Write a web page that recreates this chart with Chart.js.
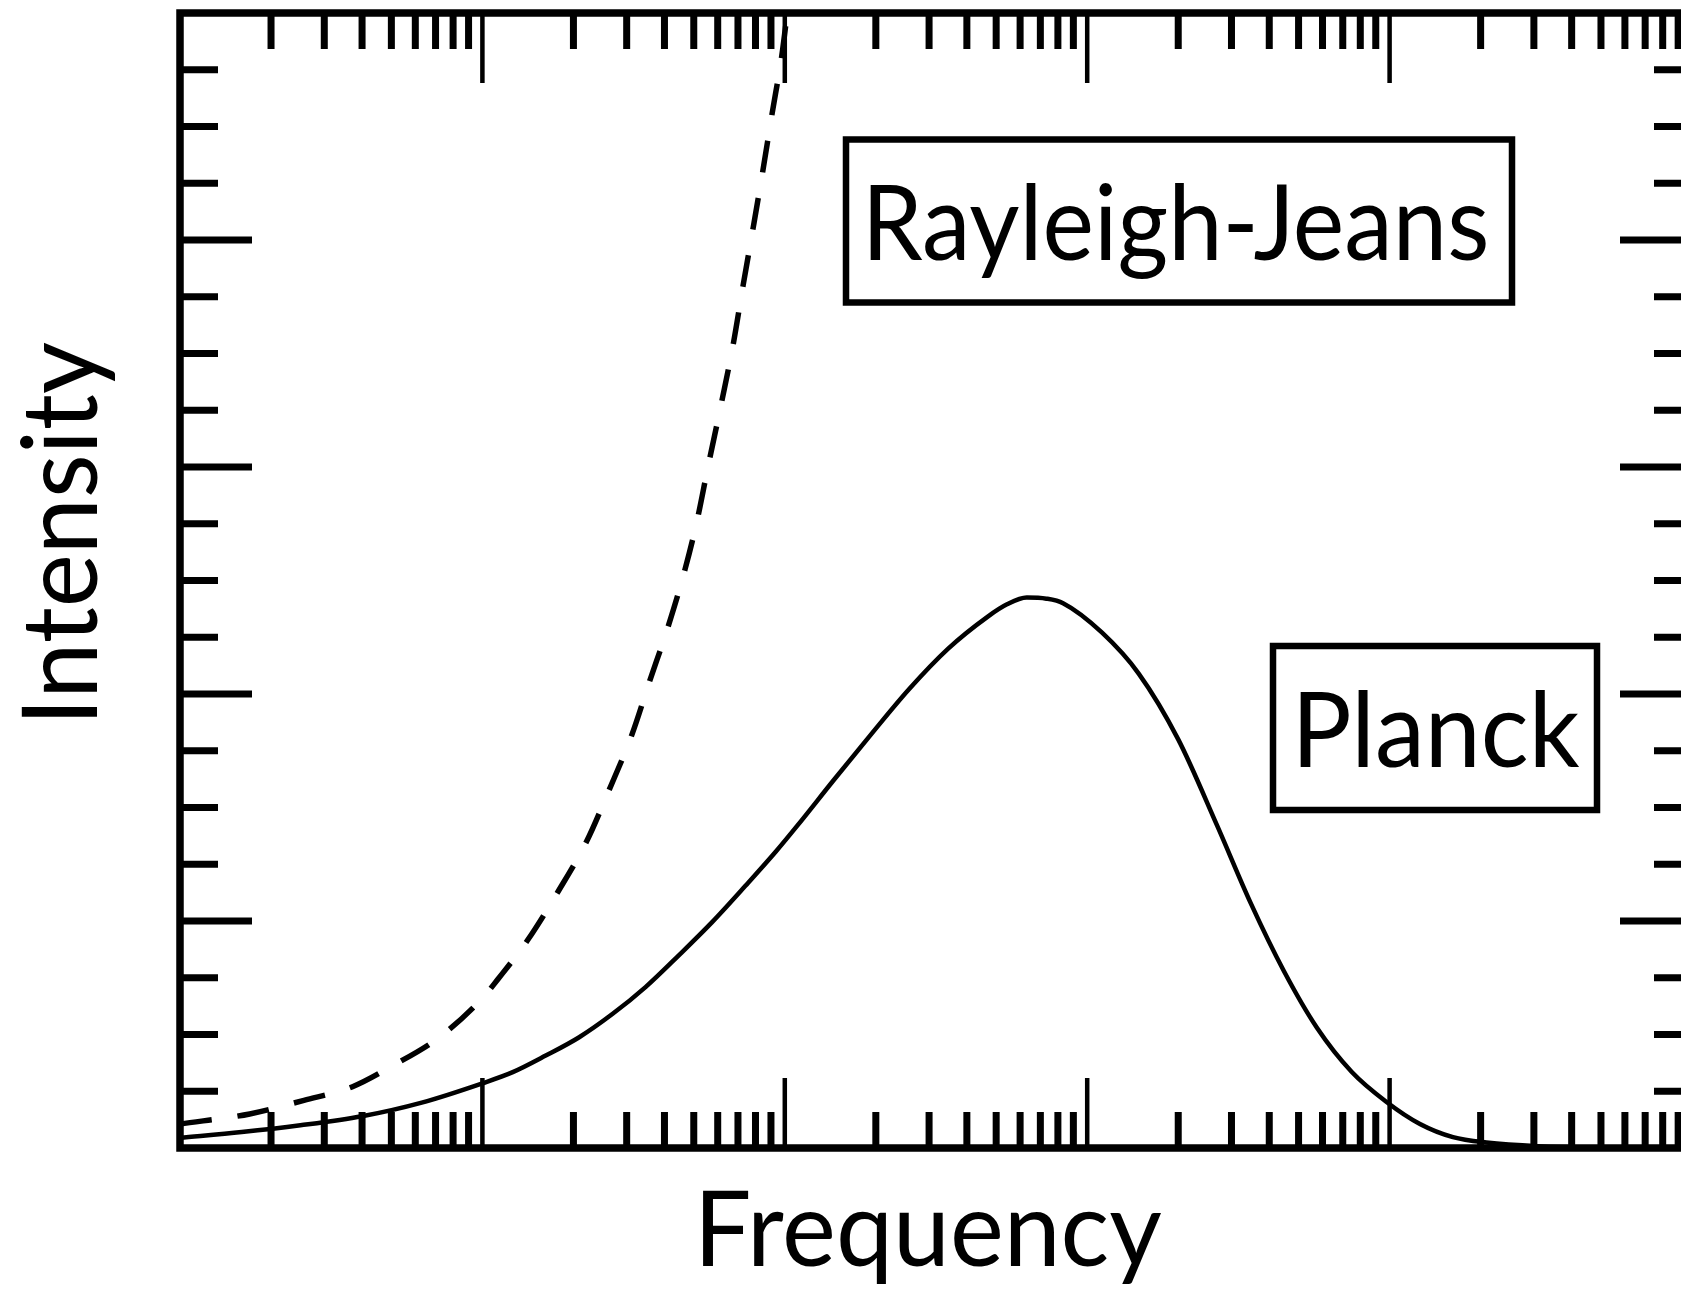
<!DOCTYPE html>
<html>
<head>
<meta charset="utf-8">
<title>Planck vs Rayleigh-Jeans</title>
<script src="https://cdn.jsdelivr.net/npm/chart.js@4/dist/chart.umd.min.js"></script>
<style>
  html, body { margin: 0; padding: 0; background: #fff; overflow: hidden; }
  #wrap { width: 1720px; height: 1290px; }
</style>
</head>
<body>
<div id="wrap"><canvas id="spectrum" width="1720" height="1290"></canvas></div>
<script>
// Planck curve: frequency (log axis, arbitrary units) and intensity
const planckFreq = [1, 1.6, 2.5, 4, 6.3, 10, 12.6, 16.2, 20.9, 26.9, 34.7, 44.7, 57.5, 74.1, 93.3,
  110, 145, 195, 257, 347, 468, 543, 631, 733, 832, 1120, 1480, 2000, 2690, 3470, 4470, 5750,
  7500, 9770, 12600, 16200, 20900, 30900, 56200, 100000];
const planckIntensity = [0.045, 0.07, 0.10, 0.14, 0.20, 0.285, 0.334, 0.407, 0.488, 0.59, 0.71, 0.85, 0.995, 1.155, 1.305,
  1.42, 1.62, 1.83, 2.02, 2.20, 2.34, 2.395, 2.425, 2.42, 2.40, 2.27, 2.09, 1.80, 1.42, 1.08, 0.78, 0.53,
  0.335, 0.203, 0.106, 0.048, 0.024, 0.008, 0.002, 0];

// Rayleigh-Jeans curve (runs off the top of the frame)
const rjFreq = [1, 1.7, 2.57, 3.72, 5.01, 7.24, 10, 11.2, 14.1, 17.8, 22.1, 26.3, 31.2, 35.8,
  41.2, 46.8, 51.2, 55.7, 61.9, 67.5, 72.8, 78.5, 84.5, 90.6, 97.7, 102, 107];
const rjIntensity = [0.106, 0.15, 0.21, 0.27, 0.36, 0.49, 0.66, 0.74, 0.915, 1.13, 1.35, 1.58, 1.82, 2.06,
  2.30, 2.55, 2.76, 3.0, 3.29, 3.54, 3.80, 4.05, 4.30, 4.55, 4.81, 5.0, 5.17];

// tick marks (no numbers are printed, only the marks)
const xDecades = [1, 10, 100, 1000, 10000];
const xMinorFactors = [2, 3, 4, 5, 6, 7, 8, 9];
const xMajorTicks = [10, 100, 1000, 10000];
const yMajorTicks = [1, 2, 3, 4];
const yMinorTicks = [0.25, 0.5, 0.75, 1.25, 1.5, 1.75, 2.25, 2.5, 2.75, 3.25, 3.5, 3.75,
  4.25, 4.5, 4.75];

const xTitle = 'Frequency';
const yTitle = 'Intensity';
const rjLabel = 'Rayleigh-Jeans';
const planckLabel = 'Planck';

const FONT = 'Lato, "Open Sans", sans-serif';
const CAP = 77; // cap height of all the lettering, px

// draws text centred on cx with its ink squeezed/stretched to inkWidth
function drawFitted(ctx, text, cx, baseline, inkWidth, vertical) {
  ctx.save();
  ctx.font = `100px ${FONT}`;
  const capRatio = ctx.measureText('H').actualBoundingBoxAscent / 100;
  ctx.font = `${(CAP / capRatio).toFixed(1)}px ${FONT}`;
  const m = ctx.measureText(text);
  const w = m.actualBoundingBoxLeft + m.actualBoundingBoxRight;
  ctx.translate(cx, baseline);
  if (vertical) ctx.rotate(-Math.PI / 2);
  ctx.scale(inkWidth / w, 1);
  ctx.fillStyle = '#000';
  ctx.textAlign = 'left';
  ctx.textBaseline = 'alphabetic';
  ctx.fillText(text, -w / 2 + m.actualBoundingBoxLeft, 0);
  ctx.restore();
}

function boxedLabel(ctx, text, box, cx, baseline, inkWidth) {
  ctx.save();
  ctx.fillStyle = '#fff';
  ctx.fillRect(box[0], box[1], box[2], box[3]);
  ctx.lineWidth = 6.5;
  ctx.strokeStyle = '#000';
  ctx.strokeRect(box[0], box[1], box[2], box[3]);
  ctx.restore();
  drawFitted(ctx, text, cx, baseline, inkWidth, false);
}

// frame with inward ticks on all four sides, axis titles and the two boxed labels
const frameAndLabels = {
  id: 'frameAndLabels',
  afterDraw(chart) {
    const { ctx, chartArea: a, scales: { x, y } } = chart;
    ctx.save();
    ctx.strokeStyle = '#000';
    ctx.lineCap = 'butt';

    const xTick = (value, len, width) => {
      const px = x.getPixelForValue(value);
      ctx.lineWidth = width;
      ctx.beginPath();
      ctx.moveTo(px, a.bottom); ctx.lineTo(px, a.bottom - len);
      ctx.moveTo(px, a.top); ctx.lineTo(px, a.top + len);
      ctx.stroke();
    };
    const yTick = (value, len, width) => {
      const py = y.getPixelForValue(value);
      ctx.lineWidth = width;
      ctx.beginPath();
      ctx.moveTo(a.left, py); ctx.lineTo(a.left + len, py);
      ctx.moveTo(a.right, py); ctx.lineTo(a.right - len, py);
      ctx.stroke();
    };

    xDecades.forEach(d => xMinorFactors.forEach(k => xTick(k * d, 36, 7)));
    xMajorTicks.forEach(v => xTick(v, 70, 4.5));
    yMinorTicks.forEach(v => yTick(v, 38, 7));
    yMajorTicks.forEach(v => yTick(v, 72, 7));

    ctx.lineWidth = 7.5;
    ctx.strokeRect(a.left, a.top, a.right - a.left, a.bottom - a.top);
    ctx.restore();

    drawFitted(ctx, xTitle, 932, 1266, 459, false);
    drawFitted(ctx, yTitle, 97, 530, 375, true);

    boxedLabel(ctx, rjLabel, [846, 139.5, 666, 163], 1178, 260, 616);
    boxedLabel(ctx, planckLabel, [1273, 646, 324, 164], 1440, 767, 280);
  }
};

const toPoints = (xs, ys) => xs.map((v, i) => ({ x: v, y: ys[i] }));

new Chart(document.getElementById('spectrum'), {
  type: 'line',
  data: {
    datasets: [
      {
        label: planckLabel,
        data: toPoints(planckFreq, planckIntensity),
        borderColor: '#000',
        borderWidth: 4.5,
        pointRadius: 0,
        cubicInterpolationMode: 'monotone',
        fill: false
      },
      {
        label: rjLabel,
        data: toPoints(rjFreq, rjIntensity),
        borderColor: '#000',
        borderWidth: 5.5,
        borderDash: [32, 26],
        pointRadius: 0,
        cubicInterpolationMode: 'monotone',
        fill: false
      }
    ]
  },
  options: {
    responsive: false,
    animation: false,
    events: [],
    layout: { padding: { left: 180, top: 13, right: 28, bottom: 142 } },
    plugins: { legend: { display: false }, tooltip: { enabled: false } },
    scales: {
      x: { type: 'logarithmic', min: 1, max: 100000, display: false },
      y: { type: 'linear', min: 0, max: 5, display: false }
    }
  },
  plugins: [frameAndLabels]
});
</script>
</body>
</html>
